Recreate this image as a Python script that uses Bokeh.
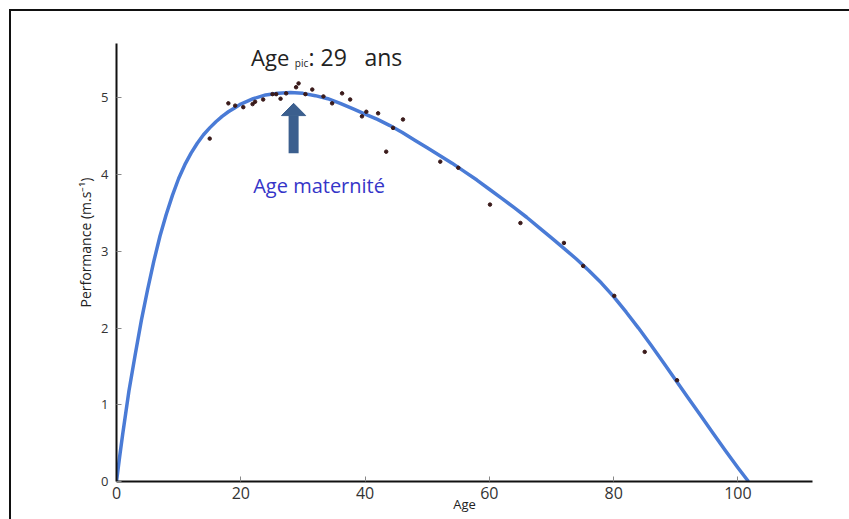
from bokeh.plotting import figure
from bokeh.models import Range1d, Label, InlineStyleSheet
from bokeh.embed import file_html
from bokeh.resources import INLINE

# ---- data ----
curve_age = [0, 0.5, 1, 2, 3, 4, 5, 6, 7, 8, 9, 10, 11, 12, 13, 14, 15, 16, 17, 18, 19, 20,
             22, 24, 26, 28, 30, 32, 34, 36, 38, 40, 42, 44, 46, 48, 50, 52, 54, 56, 58,
             60, 62, 64, 66, 68, 70, 72, 74, 76, 78, 80, 82, 84, 86, 88, 90, 92, 94, 96,
             98, 100, 101.7]
curve_perf = [0, 0.32, 0.62, 1.18, 1.65, 2.1, 2.5, 2.87, 3.2, 3.48, 3.73, 3.95, 4.13, 4.28,
              4.41, 4.52, 4.61, 4.69, 4.76, 4.82, 4.87, 4.92,
              4.99, 5.04, 5.06, 5.07, 5.06, 5.03, 4.99, 4.93, 4.86, 4.79, 4.72, 4.64, 4.55,
              4.45, 4.35, 4.25, 4.15, 4.04, 3.93,
              3.81, 3.69, 3.57, 3.445, 3.31, 3.175, 3.04, 2.9, 2.75, 2.59, 2.41, 2.21, 2.0,
              1.78, 1.55, 1.32, 1.09, 0.86, 0.63, 0.4, 0.18, 0.0]

obs_age = [15, 18, 19.1, 20.4, 21.9, 22.3, 23.6, 25.1, 25.7, 26.4, 27.3, 28.9, 29.3,
           30.4, 31.5, 33.3, 34.7, 36.3, 37.6, 39.5, 40.2, 42.1, 43.4, 44.5, 46.1,
           52.1, 55, 60.1, 65, 72, 75.1, 80.1, 85, 90.2]
obs_perf = [4.47, 4.93, 4.9, 4.88, 4.92, 4.95, 4.98, 5.05, 5.05, 4.99, 5.06, 5.14, 5.19,
            5.05, 5.11, 5.02, 4.93, 5.06, 4.98, 4.76, 4.82, 4.8, 4.3, 4.61, 4.72,
            4.17, 4.09, 3.61, 3.37, 3.11, 2.81, 2.42, 1.69, 1.32]

x_ticks = [0, 20, 40, 60, 80, 100]
y_ticks = [0, 1, 2, 3, 4, 5]

arrow_age = 28.5
arrow_bottom = 4.28
arrow_head_base = 4.77
arrow_tip = 4.93
arrow_head_half = 1.95

FONT = "Open Sans"

p = figure(width=849, height=519, x_range=Range1d(0, 112), y_range=Range1d(0, 5.71),
           output_backend="svg", toolbar_location=None,
           min_border_left=116, min_border_right=37, min_border_top=43, min_border_bottom=38)
p.outline_line_color = None
p.grid.visible = False
p.background_fill_color = "white"
p.border_fill_color = "white"

for ax, ticks, fs, so in ((p.xaxis, x_ticks, "16px", 5), (p.yaxis, y_ticks, "13px", 8)):
    ax.ticker = ticks
    ax.major_tick_in = 5
    ax.major_tick_out = 0
    ax.minor_tick_line_color = None
    ax.axis_line_width = 2
    ax.axis_line_color = "#111111"
    ax.major_tick_line_color = "#888888"
    ax.major_label_text_font = FONT
    ax.major_label_text_font_size = fs
    ax.major_label_text_color = "#333333"
    ax.major_label_standoff = so

# x axis title
p.xaxis.axis_label = "Age"
p.xaxis.axis_label_text_font = FONT
p.xaxis.axis_label_text_font_size = "13px"
p.xaxis.axis_label_text_font_style = "normal"
p.xaxis.axis_label_text_color = "#222222"
p.xaxis.axis_label_standoff = -7

# y axis title (placed as a left-side title so it can be offset upward)
p.title.text = "Performance (m.s\u207b\u00b9)"
p.title_location = "left"
p.title.align = "left"
p.title.offset = 174
p.title.standoff = 7
p.title.text_font = FONT
p.title.text_font_size = "14px"
p.title.text_font_style = "normal"
p.title.text_color = "#222222"

# fitted curve and observations
p.line(curve_age, curve_perf, line_color="#4a7bd6", line_width=3.5, line_join="round")
p.scatter(obs_age, obs_perf, size=3.5, color="#3a1a1a")

# arrow "Age maternité"
p.segment(x0=[arrow_age], y0=[arrow_bottom], x1=[arrow_age], y1=[arrow_head_base],
          line_color="#3b5f8e", line_width=10, line_cap="butt")
p.patch([arrow_age - arrow_head_half, arrow_age, arrow_age + arrow_head_half],
        [arrow_head_base, arrow_tip, arrow_head_base], fill_color="#3b5f8e", line_color="#3b5f8e")

p.add_layout(Label(x=32.6, y=3.86, text="Age maternité", text_align="center",
                   text_baseline="alphabetic", text_font=FONT, text_font_size="20px",
                   text_color="#3535c8"))

# title: Age_pic: 29 ans
title_color = "#222222"
p.add_layout(Label(x=21.65, y=5.53, text="Age", text_font=FONT, text_font_size="22px",
                   text_color=title_color, text_baseline="alphabetic"))
p.add_layout(Label(x=28.7, y=5.45, text="pic", text_font=FONT, text_font_size="10px",
                   text_color=title_color, text_baseline="alphabetic"))
p.add_layout(Label(x=30.9, y=5.53, text=": 29", text_font=FONT, text_font_size="23px",
                   text_color=title_color, text_baseline="alphabetic"))
p.add_layout(Label(x=39.9, y=5.53, text="ans", text_font=FONT, text_font_size="23px",
                   text_color=title_color, text_baseline="alphabetic"))

# outer image border (top and left edges, as in the reference)
p.stylesheets = [InlineStyleSheet(css=(
    ":host::after { content: ''; position: absolute; left: 9px; top: 9px; "
    "width: 840px; height: 510px; box-sizing: border-box; "
    "border-top: 2px solid #111; border-left: 2px solid #111; pointer-events: none; }"))]

open("out.html", "w").write(file_html(p, INLINE))
